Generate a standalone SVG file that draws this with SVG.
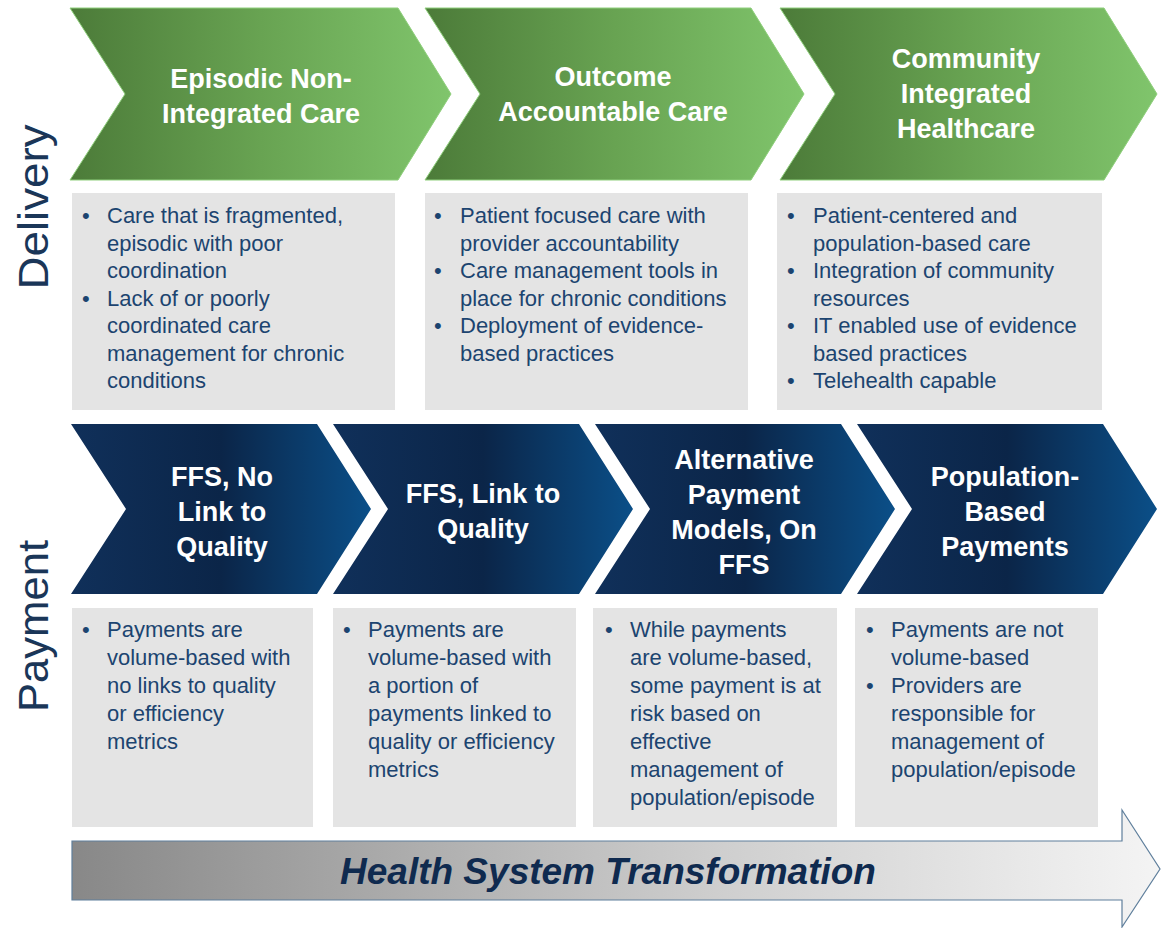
<svg xmlns="http://www.w3.org/2000/svg" width="1161" height="928" viewBox="0 0 1161 928">
<defs>
<linearGradient id="gGreen" x1="0" y1="0" x2="1" y2="0">
<stop offset="0" stop-color="#4c7b39"/>
<stop offset="0.5" stop-color="#68a352"/>
<stop offset="1" stop-color="#80c56c"/>
</linearGradient>
<linearGradient id="gBlue" x1="0" y1="0" x2="1" y2="0">
<stop offset="0" stop-color="#10305a"/>
<stop offset="0.5" stop-color="#0b2548"/>
<stop offset="1" stop-color="#0b4f88"/>
</linearGradient>
<linearGradient id="gArrow" x1="0" y1="0" x2="1" y2="0">
<stop offset="0" stop-color="#888888"/>
<stop offset="0.6" stop-color="#cfcfcf"/>
<stop offset="1" stop-color="#f4f4f4"/>
</linearGradient>
</defs>
<style>
.green{fill:url(#gGreen);stroke:#8fcf7c;stroke-width:1}
.blue{fill:url(#gBlue)}
.box{fill:#e4e4e4}
.title{font-family:"Liberation Sans",Arial,sans-serif;font-weight:bold;font-size:27px;fill:#ffffff;text-anchor:middle}
.body{font-family:"Liberation Sans",Arial,sans-serif;font-size:22px;fill:#1c4470}
.side{font-family:"Liberation Sans",Arial,sans-serif;font-size:42px;fill:#1a3658;text-anchor:middle}
.banner{font-family:"Liberation Sans",Arial,sans-serif;font-weight:bold;font-style:italic;font-size:37px;fill:#0f2a4f;text-anchor:middle}
</style>
<rect width="1161" height="928" fill="#ffffff"/>

<g id="label-delivery"><text class="side" transform="translate(48,207) rotate(-90)" textLength="165" lengthAdjust="spacingAndGlyphs">Delivery</text></g>
<g id="label-payment"><text class="side" transform="translate(48,626) rotate(-90)" textLength="172" lengthAdjust="spacingAndGlyphs">Payment</text></g>

<g id="d1">
<polygon class="green" points="70,8 398,8 451,94 398,180 70,180 125,94"/>
<text class="title" x="261" y="88">Episodic Non-</text>
<text class="title" x="261" y="123">Integrated Care</text>
</g>
<g id="d2">
<polygon class="green" points="425,8 751,8 804,94 751,180 425,180 480,94"/>
<text class="title" x="613" y="86">Outcome</text>
<text class="title" x="613" y="121">Accountable Care</text>
</g>
<g id="d3">
<polygon class="green" points="780,8 1104,8 1157,94 1104,180 780,180 835,94"/>
<text class="title" x="966" y="68">Community</text>
<text class="title" x="966" y="103">Integrated</text>
<text class="title" x="966" y="138">Healthcare</text>
</g>

<g id="d1-box">
<rect class="box" x="72" y="193" width="323" height="217"/>
<text class="body" x="82" y="223">•</text>
<text class="body" x="107" y="223">Care that is fragmented,</text>
<text class="body" x="107" y="250.5">episodic with poor</text>
<text class="body" x="107" y="278">coordination</text>
<text class="body" x="82" y="305.5">•</text>
<text class="body" x="107" y="305.5">Lack of or poorly</text>
<text class="body" x="107" y="333">coordinated care</text>
<text class="body" x="107" y="360.5">management  for chronic</text>
<text class="body" x="107" y="388">conditions</text>
</g>
<g id="d2-box">
<rect class="box" x="425" y="193" width="323" height="217"/>
<text class="body" x="434" y="223">•</text>
<text class="body" x="460" y="223">Patient focused care with</text>
<text class="body" x="460" y="250.5">provider accountability</text>
<text class="body" x="434" y="278">•</text>
<text class="body" x="460" y="278">Care management tools in</text>
<text class="body" x="460" y="305.5">place for chronic conditions</text>
<text class="body" x="434" y="333">•</text>
<text class="body" x="460" y="333">Deployment of evidence-</text>
<text class="body" x="460" y="360.5">based practices</text>
</g>
<g id="d3-box">
<rect class="box" x="777" y="193" width="325" height="217"/>
<text class="body" x="787" y="223">•</text>
<text class="body" x="813" y="223">Patient-centered and</text>
<text class="body" x="813" y="250.5">population-based care</text>
<text class="body" x="787" y="278">•</text>
<text class="body" x="813" y="278">Integration of community</text>
<text class="body" x="813" y="305.5">resources</text>
<text class="body" x="787" y="333">•</text>
<text class="body" x="813" y="333">IT enabled use of evidence</text>
<text class="body" x="813" y="360.5">based practices</text>
<text class="body" x="787" y="388">•</text>
<text class="body" x="813" y="388">Telehealth capable</text>
</g>

<g id="p1">
<polygon class="blue" points="71,424 317,424 371,509 317,594 71,594 126,509"/>
<text class="title" x="222" y="486">FFS, No</text>
<text class="title" x="222" y="521">Link to</text>
<text class="title" x="222" y="556">Quality</text>
</g>
<g id="p2">
<polygon class="blue" points="333,424 579,424 633,509 579,594 333,594 388,509"/>
<text class="title" x="483" y="503">FFS, Link to</text>
<text class="title" x="483" y="538">Quality</text>
</g>
<g id="p3">
<polygon class="blue" points="595,424 841,424 895,509 841,594 595,594 650,509"/>
<text class="title" x="744" y="469">Alternative</text>
<text class="title" x="744" y="504">Payment</text>
<text class="title" x="744" y="539">Models, On</text>
<text class="title" x="744" y="574">FFS</text>
</g>
<g id="p4">
<polygon class="blue" points="857,424 1103,424 1157,509 1103,594 857,594 912,509"/>
<text class="title" x="1005" y="486">Population-</text>
<text class="title" x="1005" y="521">Based</text>
<text class="title" x="1005" y="556">Payments</text>
</g>

<g id="p1-box">
<rect class="box" x="72" y="608" width="241" height="219"/>
<text class="body" x="82" y="637">•</text>
<text class="body" x="107" y="637">Payments are</text>
<text class="body" x="107" y="665">volume-based  with</text>
<text class="body" x="107" y="693">no links to quality</text>
<text class="body" x="107" y="721">or efficiency</text>
<text class="body" x="107" y="749">metrics</text>
</g>
<g id="p2-box">
<rect class="box" x="333" y="608" width="243" height="219"/>
<text class="body" x="343" y="637">•</text>
<text class="body" x="368" y="637">Payments are</text>
<text class="body" x="368" y="665">volume-based  with</text>
<text class="body" x="368" y="693">a portion of</text>
<text class="body" x="368" y="721">payments linked to</text>
<text class="body" x="368" y="749">quality or efficiency</text>
<text class="body" x="368" y="777">metrics</text>
</g>
<g id="p3-box">
<rect class="box" x="593" y="608" width="244" height="219"/>
<text class="body" x="605" y="637">•</text>
<text class="body" x="630" y="637">While payments</text>
<text class="body" x="630" y="665">are volume-based,</text>
<text class="body" x="630" y="693">some payment is at</text>
<text class="body" x="630" y="721">risk based on</text>
<text class="body" x="630" y="749">effective</text>
<text class="body" x="630" y="777">management  of</text>
<text class="body" x="630" y="805">population/episode</text>
</g>
<g id="p4-box">
<rect class="box" x="855" y="608" width="243" height="219"/>
<text class="body" x="866" y="637">•</text>
<text class="body" x="891" y="637">Payments are not</text>
<text class="body" x="891" y="665">volume-based</text>
<text class="body" x="866" y="693">•</text>
<text class="body" x="891" y="693">Providers are</text>
<text class="body" x="891" y="721">responsible for</text>
<text class="body" x="891" y="749">management of</text>
<text class="body" x="891" y="777">population/episode</text>
</g>

<g id="connectors">
<g id="transformation-arrow">
<polygon points="72,841 1122,841 1122,810 1160,869 1122,927 1122,900 72,900" fill="url(#gArrow)" stroke="#5f7f9c" stroke-width="1.2"/>
<text class="banner" x="608" y="884">Health System Transformation</text>
</g>
</g>
</svg>
